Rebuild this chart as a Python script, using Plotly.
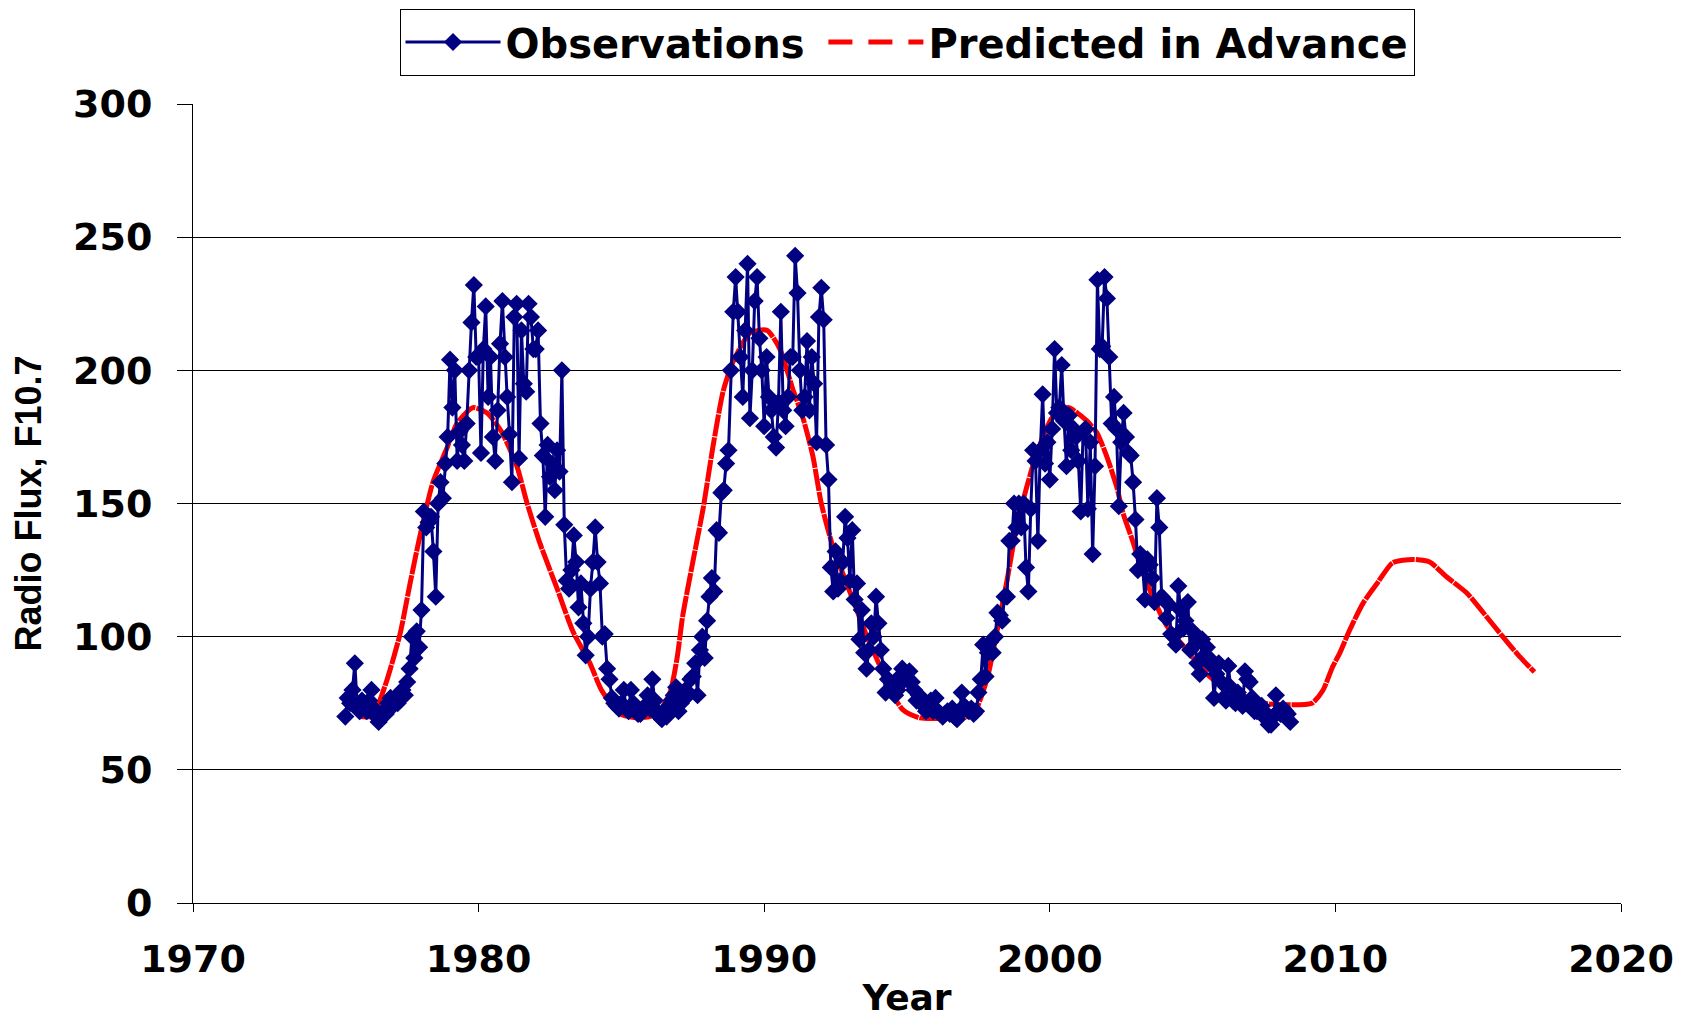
import plotly.graph_objects as go

# ---------------- Observed monthly 10.7 cm radio flux ----------------
obs_start_year = 1975
obs_start_month = 5  # May 1975

obs_1975_1979 = [
    70, 77, 75, 80, 90, 74, 72, 76,                          # 1975 (May-Dec)
    74, 72, 76, 80, 73, 70, 68, 70, 72, 71, 75, 77,          # 1976
    74, 77, 75, 79, 80, 78, 83, 88, 100, 92, 102, 96,        # 1977
    110, 147, 141, 143, 145, 132, 115, 150, 158, 152, 165, 175,  # 1978
    204, 186, 200, 166, 177, 172, 166, 180, 200, 218, 232, 205,  # 1979
]
obs_1980_1989 = [
    205, 169, 208, 224, 190, 205, 175, 166, 185, 210, 226, 205,  # 1980
    190, 176, 158, 220, 225, 167, 215, 195, 192, 225, 220, 208,  # 1981
    208, 215, 180, 168, 145, 172, 160, 165, 155, 170, 162, 200,  # 1982
    142, 121, 118, 125, 138, 128, 111, 120, 105, 93, 100, 118,   # 1983
    128, 141, 128, 120, 100, 101, 88, 84, 77, 75, 74, 73,        # 1984
    75, 80, 73, 72, 80, 75, 72, 71, 71, 73, 74, 78,              # 1985
    73, 84, 76, 72, 70, 69, 71, 70, 74, 76, 78, 81,              # 1986
    72, 75, 79, 80, 78, 84, 85, 90, 78, 95, 100, 92,             # 1987
    106, 115, 122, 117, 140, 139, 154, 155, 165, 170, 200, 222,  # 1988
    235, 222, 205, 190, 215, 240, 182, 200, 226, 235, 212, 200,  # 1989
]
obs_1990_1999 = [
    179, 205, 190, 185, 175, 171, 188, 222, 185, 179, 190, 205,  # 1990
    205, 243, 229, 200, 185, 190, 211, 185, 205, 195, 173, 220,  # 1991
    231, 219, 172, 159, 126, 117, 132, 118, 121, 128, 145, 137,  # 1992
    121, 140, 114, 120, 99, 110, 94, 88, 95, 105, 100, 115,      # 1993
    105, 95, 88, 79, 84, 80, 82, 78, 80, 85, 88, 84,             # 1994
    84, 87, 83, 80, 76, 78, 77, 74, 72, 73, 76, 72,              # 1995
    77, 72, 71, 70, 71, 72, 71, 73, 70, 69, 71, 79,              # 1996
    74, 73, 72, 73, 71, 72, 79, 84, 97, 85, 94, 98,              # 1997
    94, 100, 109, 108, 106, 115, 115, 136, 136, 150, 141, 150,   # 1998
    141, 150, 126, 117, 148, 170, 166, 136, 170, 191, 165, 173,  # 1999
]
obs_2000_2008 = [
    159, 178, 208, 184, 186, 202, 181, 164, 183, 170, 178, 175,  # 2000
    166, 147, 177, 178, 148, 173, 131, 164, 234, 208, 209, 235,  # 2001
    227, 205, 180, 190, 178, 149, 173, 184, 175, 169, 168, 158,  # 2002
    144, 125, 131, 126, 114, 129, 127, 122, 113, 152, 141, 115,  # 2003
    114, 107, 112, 101, 100, 97, 119, 110, 103, 106, 113, 95,    # 2004
    102, 97, 90, 86, 99, 93, 96, 90, 91, 77, 86, 90,             # 2005
    83, 77, 76, 89, 81, 76, 75, 79, 77, 74, 87, 84,              # 2006
    83, 77, 72, 72, 74, 74, 72, 69, 67, 67, 70, 78,              # 2007
    72, 71, 73, 72, 71, 68,                                      # 2008 (Jan-Jun)
]

# ---------------- Predicted in advance ----------------
pred_years = [1975.8, 1976.2, 1976.5, 1976.8, 1977.25, 1977.6, 1977.95, 1978.4, 1978.9,
              1979.24, 1979.8, 1980.3, 1980.8, 1981.34, 1981.7, 1982.15, 1982.75, 1983.3,
              1983.9, 1984.3, 1984.95, 1985.65, 1986.25, 1986.7, 1986.95, 1987.15, 1987.5,
              1987.86, 1988.2, 1988.56, 1988.9, 1989.5, 1990.1, 1990.55, 1991.0, 1991.36,
              1991.7, 1992.0, 1992.4, 1993.1, 1993.6, 1994.05, 1994.3, 1994.86, 1995.45,
              1996.6, 1997.3, 1997.8, 1998.15, 1998.5, 1998.85, 1999.06, 1999.4, 1999.76,
              2000.1, 2000.64, 2001.3, 2001.65, 2002.0, 2002.35, 2002.56, 2002.9, 2003.26,
              2003.6, 2004.1, 2004.8, 2005.6, 2006.3, 2007.5, 2008.4, 2009.18, 2009.57,
              2009.9, 2010.16, 2010.5, 2010.97, 2011.46, 2012.0, 2012.7, 2013.3, 2013.9,
              2014.6, 2015.3, 2015.86, 2016.46, 2016.97]
pred_flux = [70, 70, 75, 84, 101, 120, 138, 158, 171,
             180, 186, 184, 177, 164, 150, 135, 118, 102,
             90, 80, 71, 69.5, 71, 79, 92, 108, 128,
             148, 171, 192, 203, 214, 215, 208, 193, 182,
             168, 150, 134, 114, 100, 89, 82, 72.5, 69.5,
             69.5, 70.6, 84, 102, 121, 142, 151, 164, 175,
             182.5, 186, 181, 176.5, 167.5, 156, 146.5, 136, 124,
             115, 104, 95, 85, 80, 75, 74.4, 75, 80,
             88.6, 94, 102.5, 112.6, 120, 127.7, 129, 128, 122.4,
             116.4, 107.4, 100, 92.4, 86.7]

y_ticks = [0, 50, 100, 150, 200, 250, 300]
x_ticks = [1970, 1980, 1990, 2000, 2010, 2020]

obs_values = obs_1975_1979 + obs_1980_1989 + obs_1990_1999 + obs_2000_2008
obs_years = [obs_start_year + (obs_start_month - 1 + i) / 12.0 for i in range(len(obs_values))]

NAVY = "#000080"
RED = "#FF0000"

fig = go.Figure()

# predicted curve (drawn under the observations)
fig.add_trace(go.Scatter(
    x=pred_years, y=pred_flux, mode="lines",
    line=dict(color=RED, width=5, dash="22px,1px", shape="spline", smoothing=0.6),
    showlegend=False, hoverinfo="x+y",
))

fig.add_trace(go.Scatter(
    x=obs_years, y=obs_values, mode="lines+markers", name="Observations\u00a0",
    line=dict(color=NAVY, width=3),
    marker=dict(symbol="diamond", size=14, color=NAVY),
))

# legend sample for the dashed prediction line
fig.add_trace(go.Scatter(
    x=[None], y=[None], mode="lines", name="Predicted in Advance",
    line=dict(color=RED, width=5, dash="24px,16px"),
))

TICK_FONT = dict(family="DejaVu Sans", size=38, color="black", weight="bold")

# the page body adds an 8px margin, so the figure is sized to fit inside it
fig.update_layout(
    width=1667, height=1010,
    margin=dict(l=185, r=54, t=96, b=115, autoexpand=False),
    paper_bgcolor="white", plot_bgcolor="white",
    showlegend=True,
    legend=dict(
        orientation="h", x=0.5, xanchor="center",
        yref="container", y=0.9995, yanchor="top",
        bgcolor="white", bordercolor="black", borderwidth=1,
        font=dict(family="DejaVu Sans", size=40, color="black", weight="bold"),
        itemwidth=95,
    ),
    xaxis=dict(
        range=[1970, 2020], tickvals=x_ticks, tickformat="d",
        showgrid=False, zeroline=False, automargin=False,
        showline=True, linecolor="black", linewidth=1,
        ticks="outside", ticklen=8, tickcolor="black",
        tickfont=TICK_FONT, ticklabelstandoff=14,
        title=dict(text="Year", standoff=12,
                   font=dict(family="DejaVu Sans", size=36, color="black", weight="bold")),
    ),
    yaxis=dict(
        range=[0, 300], tickvals=y_ticks, automargin=False,
        showgrid=True, gridcolor="black", gridwidth=1, zeroline=False,
        showline=True, linecolor="black", linewidth=1,
        ticks="outside", ticklen=15, tickcolor="black",
        tickfont=TICK_FONT, ticklabelstandoff=17,
        title=dict(text="Radio Flux, F10.7", standoff=30,
                   font=dict(family="Liberation Sans", size=36, color="black", weight="bold")),
    ),
)

fig.write_html("out.html")
